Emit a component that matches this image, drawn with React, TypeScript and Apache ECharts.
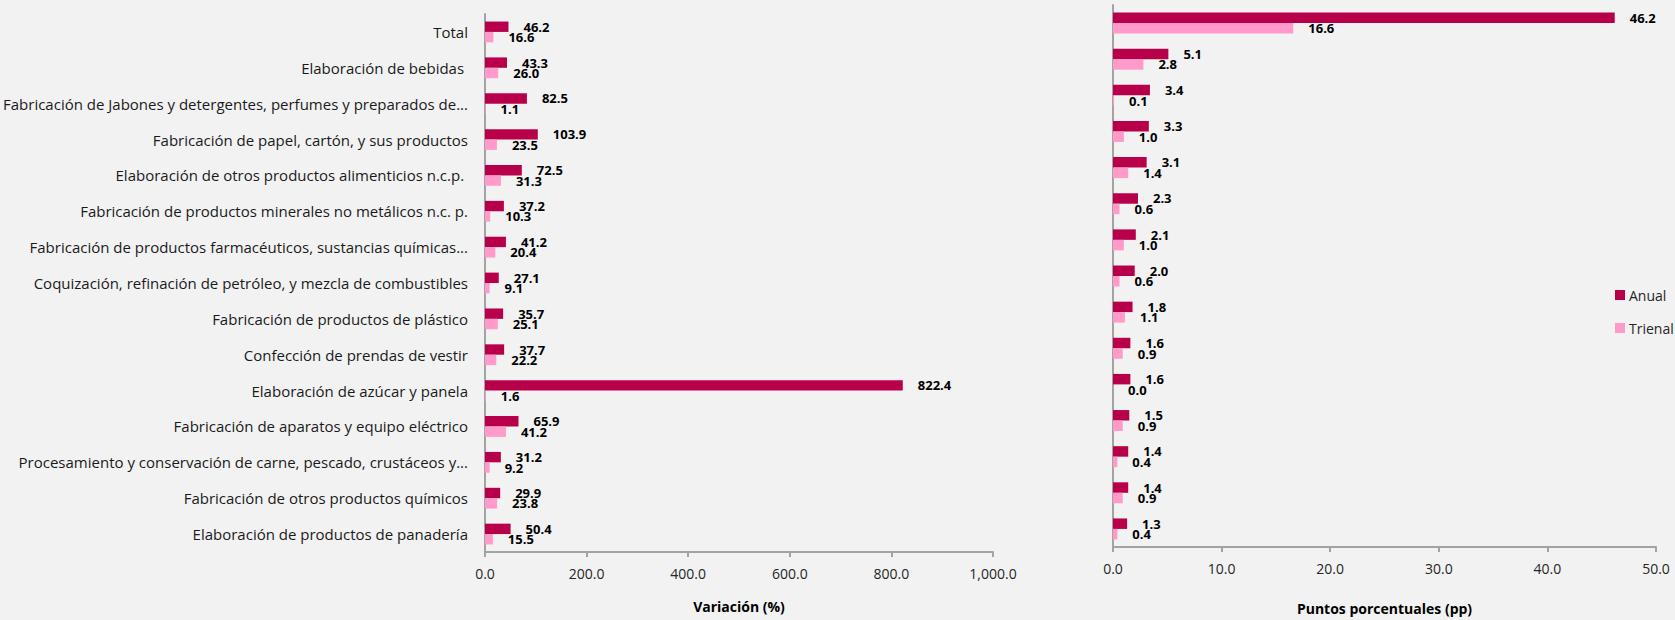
import React, { useEffect, useRef } from "react";
import * as echarts from "echarts";

const categories = [
  "Total",
  "Elaboración de bebidas ",
  "Fabricación de Jabones y detergentes, perfumes y preparados de...",
  "Fabricación de papel, cartón, y sus productos",
  "Elaboración de otros productos alimenticios n.c.p. ",
  "Fabricación de productos minerales no metálicos n.c. p.",
  "Fabricación de productos farmacéuticos, sustancias químicas...",
  "Coquización, refinación de petróleo, y mezcla de combustibles",
  "Fabricación de productos de plástico",
  "Confección de prendas de vestir",
  "Elaboración de azúcar y panela",
  "Fabricación de aparatos y equipo eléctrico",
  "Procesamiento y conservación de carne, pescado, crustáceos y...",
  "Fabricación de otros productos químicos",
  "Elaboración de productos de panadería",
];

const variacionAnual = [46.2, 43.3, 82.5, 103.9, 72.5, 37.2, 41.2, 27.1, 35.7, 37.7, 822.4, 65.9, 31.2, 29.9, 50.4];
const variacionTrienal = [16.6, 26.0, 1.1, 23.5, 31.3, 10.3, 20.4, 9.1, 25.1, 22.2, 1.6, 41.2, 9.2, 23.8, 15.5];

const puntosAnual = [46.2, 5.1, 3.4, 3.3, 3.1, 2.3, 2.1, 2.0, 1.8, 1.6, 1.6, 1.5, 1.4, 1.4, 1.3];
const puntosTrienal = [16.6, 2.8, 0.1, 1.0, 1.4, 0.6, 1.0, 0.6, 1.1, 0.9, 0.0, 0.9, 0.4, 0.9, 0.4];

const seriesNames = ["Anual", "Trienal"];
const leftAxisTitle = "Variación (%)";
const rightAxisTitle = "Puntos porcentuales (pp)";

const COLOR_ANUAL = "#B8004A";
const COLOR_TRIENAL = "#FF9ACB";
const FONT = "'Open Sans', 'Noto Sans', sans-serif";
const AXIS_COLOR = "#A3A3A3";

const fmt1 = (v: number) =>
  Number(v).toLocaleString("en-US", { minimumFractionDigits: 1, maximumFractionDigits: 1 });

export default function App() {
  const ref = useRef<HTMLDivElement>(null);

  useEffect(() => {
    document.body.style.margin = "0";
    if (!ref.current) return;
    const chart = echarts.init(ref.current, undefined, { renderer: "svg" });

    const labelCfg = {
      show: true,
      position: "right" as const,
      distance: 15,
      fontFamily: FONT,
      fontWeight: "bold" as const,
      fontSize: 13,
      color: "#000",
      formatter: (p: any) => fmt1(p.value),
    };

    const xAxisCommon = {
      type: "value" as const,
      splitLine: { show: false },
      axisLine: { show: true, lineStyle: { color: AXIS_COLOR, width: 2 } },
      axisTick: { show: true, length: 5, lineStyle: { color: AXIS_COLOR, width: 2 } },
      axisLabel: {
        fontFamily: FONT,
        fontSize: 14,
        color: "#262626",
        margin: 14,
        formatter: (v: number) => fmt1(v),
      },
      nameLocation: "middle" as const,
      nameTextStyle: { fontFamily: FONT, fontWeight: "bold" as const, fontSize: 14, color: "#000" },
    };

    const yAxisCommon = {
      type: "category" as const,
      data: categories,
      inverse: true,
      axisTick: { show: false },
      axisLine: { show: true, lineStyle: { color: AXIS_COLOR, width: 2 } },
      splitLine: { show: false },
    };

    const barCommon = {
      type: "bar" as const,
      barGap: "0%",
      barCategoryGap: "42%",
      label: labelCfg,
    };

    chart.setOption({
      animation: false,
      backgroundColor: "#F2F2F2",
      textStyle: { fontFamily: FONT },
      legend: {
        data: seriesNames,
        orient: "vertical",
        left: 1610,
        top: 283,
        itemWidth: 10,
        itemHeight: 10,
        itemGap: 19,
        icon: "rect",
        textStyle: { fontFamily: FONT, fontSize: 14, color: "#262626", padding: [0, 0, 0, -1] },
      },
      grid: [
        { left: 485, top: 14, width: 508, height: 538 },
        { left: 1113, top: 5, width: 543, height: 555 },
      ],
      xAxis: [
        { ...xAxisCommon, gridIndex: 0, min: 0, max: 1000, interval: 200, name: leftAxisTitle, nameGap: 47 },
        { ...xAxisCommon, gridIndex: 1, min: 0, max: 50, interval: 10, name: rightAxisTitle, nameGap: 54 },
      ],
      yAxis: [
        {
          ...yAxisCommon,
          gridIndex: 0,
          axisLabel: { fontFamily: FONT, fontSize: 15, color: "#1a1a1a", margin: 17 },
        },
        { ...yAxisCommon, gridIndex: 1, axisLabel: { show: false } },
      ],
      series: [
        { ...barCommon, name: seriesNames[0], xAxisIndex: 0, yAxisIndex: 0, data: variacionAnual, itemStyle: { color: COLOR_ANUAL } },
        { ...barCommon, name: seriesNames[1], xAxisIndex: 0, yAxisIndex: 0, data: variacionTrienal, itemStyle: { color: COLOR_TRIENAL } },
        { ...barCommon, name: seriesNames[0], xAxisIndex: 1, yAxisIndex: 1, data: puntosAnual, itemStyle: { color: COLOR_ANUAL } },
        { ...barCommon, name: seriesNames[1], xAxisIndex: 1, yAxisIndex: 1, data: puntosTrienal, itemStyle: { color: COLOR_TRIENAL } },
      ],
    });

    return () => chart.dispose();
  }, []);

  return <div ref={ref} style={{ width: 1675, height: 620, background: "#F2F2F2" }} />;
}
